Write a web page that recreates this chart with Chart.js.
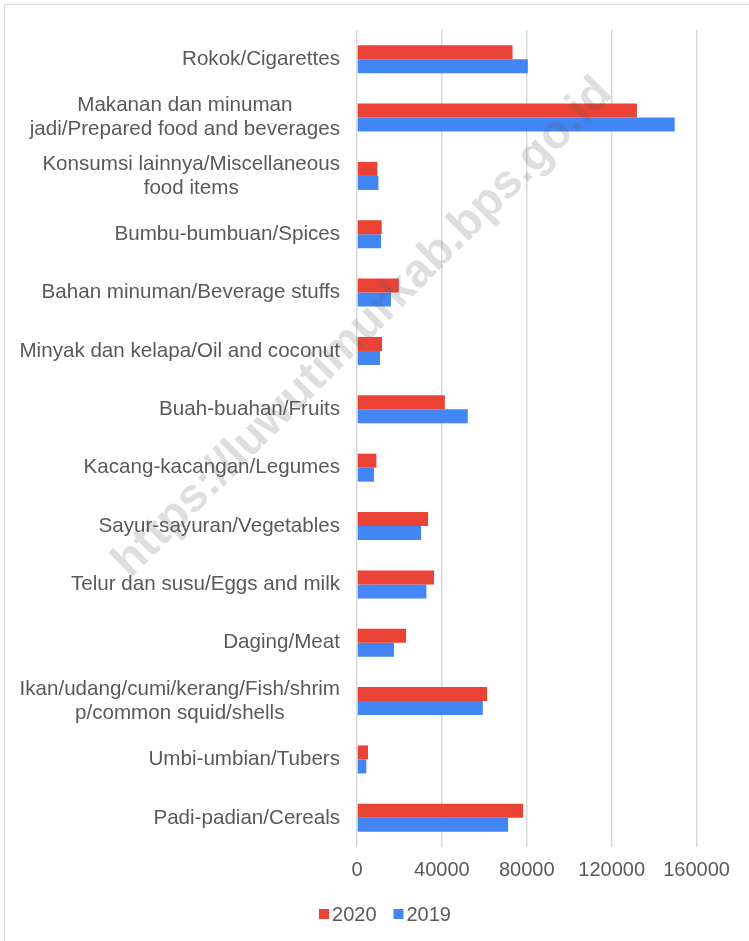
<!DOCTYPE html>
<html>
<head>
<meta charset="utf-8">
<script src="https://cdn.jsdelivr.net/npm/chart.js@4"></script>
<style>
  html, body { margin: 0; padding: 0; background: #fff; overflow: hidden; }
  #box {
    position: absolute;
    left: 4px;
    top: 4px;
    width: 760px;
    height: 950px;
    border: 1px solid #d9d9d9;
    background: #fff;
  }
</style>
</head>
<body>
<div id="box"><canvas id="chart"></canvas></div>
<script>
  const categories = [
    ["Rokok/Cigarettes"],
    ["Makanan dan minuman", "jadi/Prepared food and beverages"],
    ["Konsumsi lainnya/Miscellaneous", "food items"],
    ["Bumbu-bumbuan/Spices"],
    ["Bahan minuman/Beverage stuffs"],
    ["Minyak dan kelapa/Oil and coconut"],
    ["Buah-buahan/Fruits"],
    ["Kacang-kacangan/Legumes"],
    ["Sayur-sayuran/Vegetables"],
    ["Telur dan susu/Eggs and milk"],
    ["Daging/Meat"],
    ["Ikan/udang/cumi/kerang/Fish/shrim", "p/common squid/shells"],
    ["Umbi-umbian/Tubers"],
    ["Padi-padian/Cereals"],
  ];

  const values2020 = [73300, 131900, 9600, 11650, 19700, 11800, 41400, 9150, 33500, 36300, 23100, 61300, 5200, 78300];
  const values2019 = [80500, 149700, 10100, 11300, 16000, 10850, 52200, 8000, 30200, 32700, 17450, 59300, 4400, 71200];

  const seriesNames = ["2020", "2019"];
  const seriesColors = ["#EA4335", "#4285F4"];

  const xMax = 180000;
  const xTicks = [0, 40000, 80000, 120000, 160000];

  const watermark = "https://luwutimurkab.bps.go.id";

  const textColor = "#595959";
  const gridColor = "#d9d9d9";
  const fontFamily = "'Liberation Sans', Arial, sans-serif";
  const labelSize = 20.6;

  // category labels: block right-aligned, lines centred within the block
  const yLabelPlugin = {
    id: "yLabels",
    afterDraw(chart) {
      const ctx = chart.ctx;
      const yScale = chart.scales.y;
      const right = chart.chartArea.left - 17;
      const lineH = 24;
      ctx.save();
      ctx.font = labelSize + "px " + fontFamily;
      ctx.fillStyle = textColor;
      ctx.textAlign = "center";
      ctx.textBaseline = "middle";
      categories.forEach((lines, i) => {
        const w = Math.max(...lines.map((t) => ctx.measureText(t).width));
        const cx = right - w / 2;
        const cy = yScale.getPixelForValue(i);
        const top = cy - ((lines.length - 1) * lineH) / 2;
        lines.forEach((t, k) => ctx.fillText(t, cx, top + k * lineH));
      });
      ctx.restore();
    },
  };

  const legendPlugin = {
    id: "bottomLegend",
    afterDraw(chart) {
      const ctx = chart.ctx;
      const box = 10, gap = 3, between = 17;
      ctx.save();
      ctx.font = "20px " + fontFamily;
      ctx.textBaseline = "middle";
      const widths = seriesNames.map((n) => box + gap + ctx.measureText(n).width);
      const total = widths.reduce((a, b) => a + b, 0) + between * (widths.length - 1);
      let x = 380 - total / 2;
      const y = chart.chartArea.bottom + 67;
      seriesNames.forEach((n, i) => {
        ctx.fillStyle = seriesColors[i];
        ctx.fillRect(x, y - box / 2, box, box);
        ctx.fillStyle = textColor;
        ctx.textAlign = "left";
        ctx.fillText(n, x + box + gap, y + 1);
        x += widths[i] + between;
      });
      ctx.restore();
    },
  };

  const watermarkPlugin = {
    id: "watermark",
    afterDraw(chart) {
      const ctx = chart.ctx;
      ctx.save();
      ctx.translate(358, 323);
      ctx.rotate(-Math.PI / 4);
      ctx.font = "bold 47px " + fontFamily;
      ctx.fillStyle = "rgba(90,90,90,0.2)";
      ctx.textAlign = "center";
      ctx.textBaseline = "middle";
      ctx.fillText(watermark, 0, 0);
      ctx.restore();
    },
  };

  new Chart(document.getElementById("chart"), {
    type: "bar",
    data: {
      labels: categories,
      datasets: seriesNames.map((name, i) => ({
        label: name,
        data: i === 0 ? values2020 : values2019,
        backgroundColor: seriesColors[i],
        borderWidth: 0,
        categoryPercentage: 0.48,
        barPercentage: 1,
      })),
    },
    options: {
      indexAxis: "y",
      responsive: true,
      maintainAspectRatio: false,
      animation: false,
      layout: { padding: { left: 0, top: 25, right: 26, bottom: 68 } },
      plugins: {
        legend: { display: false },
        tooltip: { enabled: false },
      },
      scales: {
        x: {
          type: "linear",
          min: 0,
          max: xMax,
          afterBuildTicks(scale) {
            scale.ticks = xTicks.map((v) => ({ value: v }));
          },
          afterFit(scale) { scale.height = 40; },
          border: { display: false },
          grid: { color: gridColor, lineWidth: 1.5, drawTicks: false },
          ticks: {
            autoSkip: false,
            padding: 11,
            color: textColor,
            font: { family: fontFamily, size: 20 },
            maxRotation: 0,
            minRotation: 0,
            callback: (v) => String(v),
          },
        },
        y: {
          afterFit(scale) { scale.width = 352; },
          border: { display: false },
          grid: { display: false, drawTicks: false },
          ticks: {
            color: "rgba(0,0,0,0)",
            font: { family: fontFamily, size: 20 },
            padding: 0,
          },
        },
      },
    },
    plugins: [yLabelPlugin, legendPlugin, watermarkPlugin],
  });
</script>
</body>
</html>
